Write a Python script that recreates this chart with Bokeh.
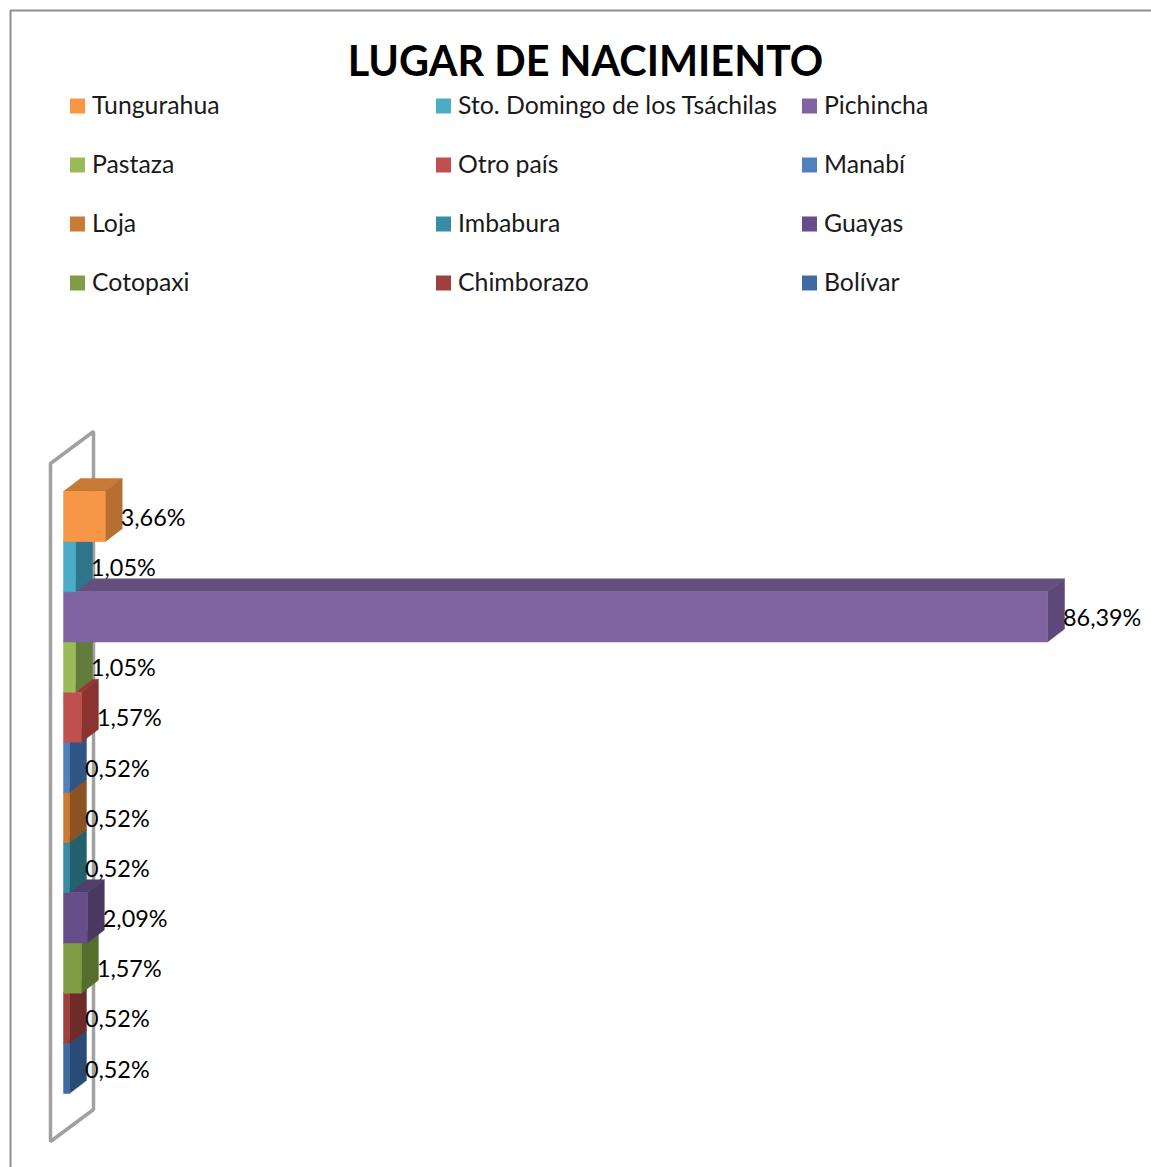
from bokeh.plotting import figure
from bokeh.models import Range1d
from bokeh.core.properties import value
from bokeh.embed import file_html
from bokeh.resources import INLINE

# Data, top to bottom
categories = ["Tungurahua", "Sto. Domingo de los Tsáchilas", "Pichincha", "Pastaza",
              "Otro país", "Manabí", "Loja", "Imbabura", "Guayas", "Cotopaxi",
              "Chimborazo", "Bolívar"]
percent = [3.66, 1.05, 86.39, 1.05, 1.57, 0.52, 0.52, 0.52, 2.09, 1.57, 0.52, 0.52]
front_colors = ["#F79646", "#4BACC6", "#8064A2", "#9BBB59", "#C0504D", "#4F81BD",
                "#CC7B36", "#378DA5", "#684E88", "#7F9D45", "#A0403D", "#3F6CA0"]
side_colors = ["#B66F30", "#2F758A", "#5D4878", "#627C3C", "#8A3331", "#2F5685",
               "#8B5322", "#23616F", "#4B3862", "#566D2E", "#6F2B29", "#2A4B73"]
top_colors = ["#C67A35", "#367F95", "#64507F", "#6C8840", "#953836", "#375E8E",
              "#96592A", "#296C7D", "#523F6B", "#5F7833", "#7A302E", "#2F527D"]
title_text = "LUGAR DE NACIMIENTO"

# Scale: 11.39 px per percentage point, 50.17 px per category
KX, KY = 984 / 86.39, 50.17
X0, Y0 = 63, 1093          # reference pixel of value 0 / lower edge of last bar
W, H = 1151, 1167


def px(x):
    return (x - X0) / KX


def py(y):
    return (Y0 - y) / KY


DX, DY = 17 / KX, 13 / KY  # 3D depth

p = figure(width=W, height=H, output_backend="svg", toolbar_location=None,
           x_range=Range1d(px(0), px(W)), y_range=Range1d(py(H), py(0)),
           min_border=0, min_border_left=0, min_border_right=0,
           min_border_top=0, min_border_bottom=0, outline_line_color=None)
p.axis.visible = False
p.grid.visible = False

# Outer chart border (top and left edges visible)
p.line([px(1160), px(10), px(10)], [py(10), py(10), py(1175)],
       line_color="#8F8F8F", line_width=2)

# Wall frame
p.patch([px(50), px(93), px(93), px(50)], [py(463), py(431), py(1109), py(1141)],
        fill_color=None, line_color="#A0A0A0", line_width=3.5)

# Bars: each bar sits in front of the one below it, so paint from the bottom up
n = len(categories)
for i in reversed(range(n)):
    v, fc, sc, tc = percent[i], front_colors[i], side_colors[i], top_colors[i]
    low = n - 1 - i
    high = low + 1
    p.patch([0, DX, v + DX, v], [high, high + DY, high + DY, high],
            fill_color=tc, line_color=tc, line_width=0.5)
    p.patch([v, v + DX, v + DX, v], [low, low + DY, high + DY, high],
            fill_color=sc, line_color=sc, line_width=0.5)
    p.quad(left=[0], right=[v], bottom=[low], top=[high],
           fill_color=fc, line_color=fc, line_width=0.5)

# Data labels
labels = [f"{v:.2f}".replace(".", ",") + "%" for v in percent]
p.text(x=[v + DX - 1.5 / KX for v in percent],
       y=[n - 1 - i + 0.5 - 0.2 / KY for i in range(n)],
       text=labels, text_font=value("Lato"), text_font_size="23.4px",
       text_color="#000000", text_align="left", text_baseline="middle")

# Title
p.text(x=[px(585)], y=[py(59.7)], text=[title_text], text_font=value("Lato"),
       text_font_size="41.4px", text_font_style="bold", text_color="#000000",
       text_align="center", text_baseline="middle")

# Legend
col_x = [69.5, 435.5, 801.5]
row_y = [105.5, 164.5, 223.5, 282.5]
for i, (name, color) in enumerate(zip(categories, front_colors)):
    cx, ry = col_x[i % 3], row_y[i // 3]
    p.quad(left=[px(cx)], right=[px(cx + 15)], bottom=[py(ry + 7.5)], top=[py(ry - 7.5)],
           fill_color=color, line_color=None)
    p.text(x=[px(cx + 22)], y=[py(ry - 1.5)], text=[name], text_font=value("Lato"),
           text_font_size="24.8px", text_color="#1A1A1A", text_align="left",
           text_baseline="middle")

open("out.html", "w").write(file_html(p, INLINE))
